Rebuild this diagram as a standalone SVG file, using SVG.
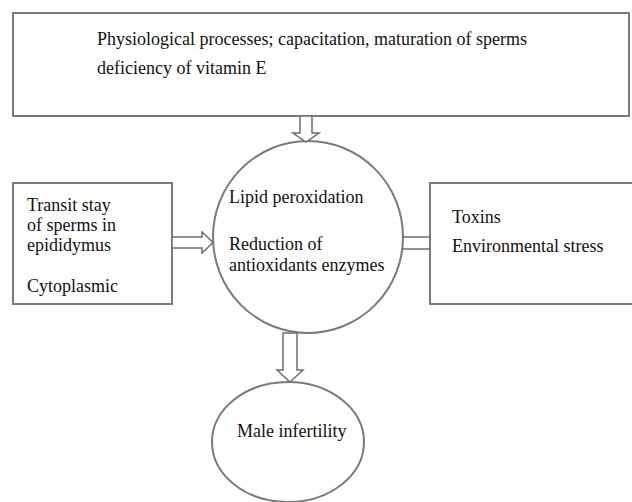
<svg xmlns="http://www.w3.org/2000/svg" width="632" height="502" viewBox="0 0 632 502">
<style>
.box{fill:#fff;stroke:#7a7a7a;stroke-width:2}
.arr{fill:#fff;stroke:#6e6e6e;stroke-width:1.5;stroke-linejoin:miter}
.ln{stroke:#6e6e6e;stroke-width:1.5;fill:none}
text{font-family:"Liberation Serif","DejaVu Serif",serif;font-size:18px;fill:#111}
</style>
<rect width="632" height="502" fill="#fff"/>
<g id="top">
<rect class="box" x="13" y="13" width="616" height="103"/>
<text x="97" y="45">Physiological processes; capacitation, maturation of sperms</text>
<text x="97" y="74">deficiency of vitamin E</text>
</g>
<g id="left">
<rect class="box" x="13" y="183" width="159" height="121"/>
<text x="27" y="211">Transit stay</text>
<text x="27" y="231">of sperms in</text>
<text x="27" y="251">epididymus</text>
<text x="27" y="292">Cytoplasmic</text>
</g>
<g id="right">
<rect class="box" x="430" y="183" width="203" height="121"/>
<text x="452" y="223">Toxins</text>
<text x="452" y="252">Environmental stress</text>
</g>
<g id="center">
<ellipse class="box" cx="308" cy="237" rx="95" ry="96"/>
<text x="229" y="203">Lipid peroxidation</text>
<text x="229" y="250">Reduction of</text>
<text x="229" y="271">antioxidants enzymes</text>
</g>
<g id="bottom">
<ellipse class="box" cx="288" cy="442" rx="76" ry="60"/>
<text x="237" y="437">Male infertility</text>
</g>
<g id="connectors">
<path class="arr" d="M300,116 L312,116 L312,133 L319,133 L306,142 L293,133 L300,133 Z"/>
<path class="arr" d="M172,237 L202,237 L202,232 L213,242.5 L202,253 L202,248 L172,248 Z"/>
<line class="ln" x1="402" y1="237" x2="430" y2="237"/>
<line class="ln" x1="402" y1="249" x2="430" y2="249"/>
<path class="arr" d="M283,333 L297,333 L297,370 L303,370 L290,382 L277,370 L283,370 Z"/>
</g>
</svg>
